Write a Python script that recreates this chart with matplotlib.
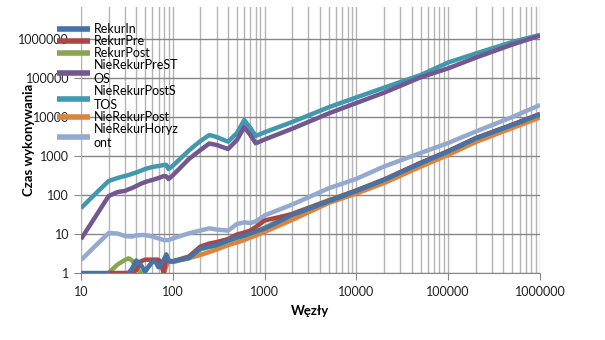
import numpy as np
import matplotlib
matplotlib.use('agg')
import matplotlib.pyplot as plt
from matplotlib.ticker import LogLocator, FixedLocator, NullFormatter

plt.rcParams['font.family'] = ['Lato', 'DejaVu Sans']

nan = np.nan

# liczba wezlow
wezly = [10, 15, 20, 25, 30, 33, 36, 40, 45, 50, 55, 60, 65, 70, 75, 80, 85, 90, 100,
         150, 200, 250, 300, 400, 500, 600, 700, 800, 1000, 2000, 5000, 10000, 20000,
         50000, 100000, 200000, 500000, 1000000]

rekur_in = [1, 1, 1, nan, nan, 1, 1.3, 2.1, 1.6, 1.1, 1.5, 2.0, 1.9, 1.4, 1.7, 2.2, 3.0, 2.1, 2.0,
            2.42, 4.3, 4.77, 5.2, 6.8, 8.1, 9.1, 10.4, 11.6, 13.8, 30.7, 69, 127, 243,
            650, 1304, 2825, 6240, 11600]
rekur_pre = [nan, nan, 1, 1, 1, 1, 1, 1.2, 2.0, 2.2, 2.2, 2.2, 2.2, 2.2, 1.5, 1.0, 2.6, 2.0, 2.0,
             2.65, 4.77, 5.7, 6.2, 7.4, 9.7, 10.9, 12.3, 15.1, 22.2, 32.5, 71, 131, 250,
             670, 1340, 2900, 6400, 12000]
rekur_post = [nan, nan, 1, 1.65, 2.15, 2.38, 2.1, 1.4, 1.0, 1.1, 1.5, 1.9, 2.0, 2.0, 2.0, 2.0, 2.0, 2.0, 2.0,
              2.4, 4.0, 4.6, 5.0, 6.6, 8.0, 9.0, 10.3, 11.5, 14.5, 33, 74, 130, 245,
              655, 1310, 2840, 6300, 11800]
nierekur_pre_stos = [7.4, 32.6, 94, 119, 127, 140, 151, 170, 195, 215, 230, 243, 258, 273, 290, 307, 300, 257, 320,
                     838, 1425, 2093, 1914, 1512, 2570, 5540, 3452, 2118, 2650, 5010, 12400, 22900, 42000,
                     104000, 177000, 333000, 722000, 1220000]
nierekur_post_stos = [46, 119, 228, 273, 307, 325, 350, 377, 420, 464, 495, 522, 540, 554, 570, 588, 590, 464, 560,
                      1390, 2425, 3452, 3070, 2327, 3890, 8375, 5220, 3256, 4055, 7450, 17800, 31800, 56400,
                      119000, 250000, 425000, 838000, 1270000]
nierekur_post = [nan, nan, nan, nan, nan, nan, nan, nan, nan, nan, nan, nan, nan, nan, nan, 1.0, 1.5, 2.0, 1.9,
                 2.4, 2.9, 3.45, 4.0, 5.2, 6.05, 7.0, 8.1, 9.1, 11.3, 23, 62.7, 109, 202,
                 532, 1062, 2287, 5220, 9700]
nierekur_horyzont = [2.15, 5.5, 10.6, 10.3, 8.9, 8.7, 8.6, 9.2, 9.4, 9.4, 9.0, 8.6, 8.1, 7.7, 7.3, 7.0, 7.0, 7.0, 7.7,
                     10.4, 12.3, 14, 13, 12.2, 18, 20, 19, 21, 30, 57, 149, 260, 538,
                     1194, 2154, 4250, 10000, 20300]

serie = [
    ('RekurIn', rekur_in, '#4572A7'),
    ('RekurPre', rekur_pre, '#AA4643'),
    ('RekurPost', rekur_post, '#89A54E'),
    ('NieRekurPreST\nOS', nierekur_pre_stos, '#71588F'),
    ('NieRekurPostS\nTOS', nierekur_post_stos, '#4198AF'),
    ('NieRekurPost', nierekur_post, '#DB843D'),
    ('NieRekurHoryz\nont', nierekur_horyzont, '#93A9CF'),
]

fig = plt.figure(figsize=(6.05, 3.4), dpi=100)
ax = fig.add_axes([81 / 605, 1 - 273 / 340, 459 / 605, 266 / 340])

for i, (nazwa, y, kolor) in enumerate(serie):
    ax.plot(wezly, y, color=kolor, lw=3.2, label=nazwa, zorder=10 - i, solid_capstyle='butt')

ax.set_xscale('log')
ax.set_yscale('log')
ax.set_xlim(10, 1000000)
ax.set_ylim(1, 10 ** (6 + 32 / 39))

ax.xaxis.set_major_locator(FixedLocator([10, 100, 1000, 10000, 100000, 1000000]))
ax.xaxis.set_minor_locator(LogLocator(base=10, subs=np.arange(2, 10)))
ax.xaxis.set_minor_formatter(NullFormatter())
ax.set_xticklabels(['10', '100', '1000', '10000', '100000', '1000000'])
ax.yaxis.set_major_locator(FixedLocator([1, 10, 100, 1000, 10000, 100000, 1000000]))
ax.yaxis.set_minor_locator(FixedLocator([]))
ax.set_yticklabels(['1', '10', '100', '1000', '10000', '100000', '1000000'])

ax.grid(True, which='major', axis='y', color='#868686', lw=1)
ax.grid(True, which='both', axis='x', color='#B4B4B4', lw=1)
ax.tick_params(axis='both', which='major', length=5, color='#868686', labelsize=9, labelcolor='#202020')
ax.tick_params(axis='x', which='minor', length=0)
ax.tick_params(axis='x', pad=4)

for s in ['top', 'right']:
    ax.spines[s].set_visible(False)
ax.spines['bottom'].set_color('#868686')
ax.spines['left'].set_color('#B4B4B4')

ax.set_xlabel('Węzły', fontsize=9.5, fontweight='bold')
ax.xaxis.set_label_coords(0.5, -(305 - 273) / 266)
ax.set_ylabel('Czas wykonywania', fontsize=9.5, fontweight='bold')
ax.yaxis.set_label_coords(-(81 - 35) / 459, 0.5)

leg = ax.legend(loc='upper left', bbox_to_anchor=(57 / 605, 1 - 23 / 340),
                bbox_transform=fig.transFigure, frameon=False, fontsize=9,
                handlelength=2.6, handletextpad=0.35, labelspacing=0.0,
                borderpad=0, borderaxespad=0)
for h in leg.get_lines():
    h.set_linewidth(4)
leg.set_zorder(20)

fig.savefig('out.png', dpi=100)
